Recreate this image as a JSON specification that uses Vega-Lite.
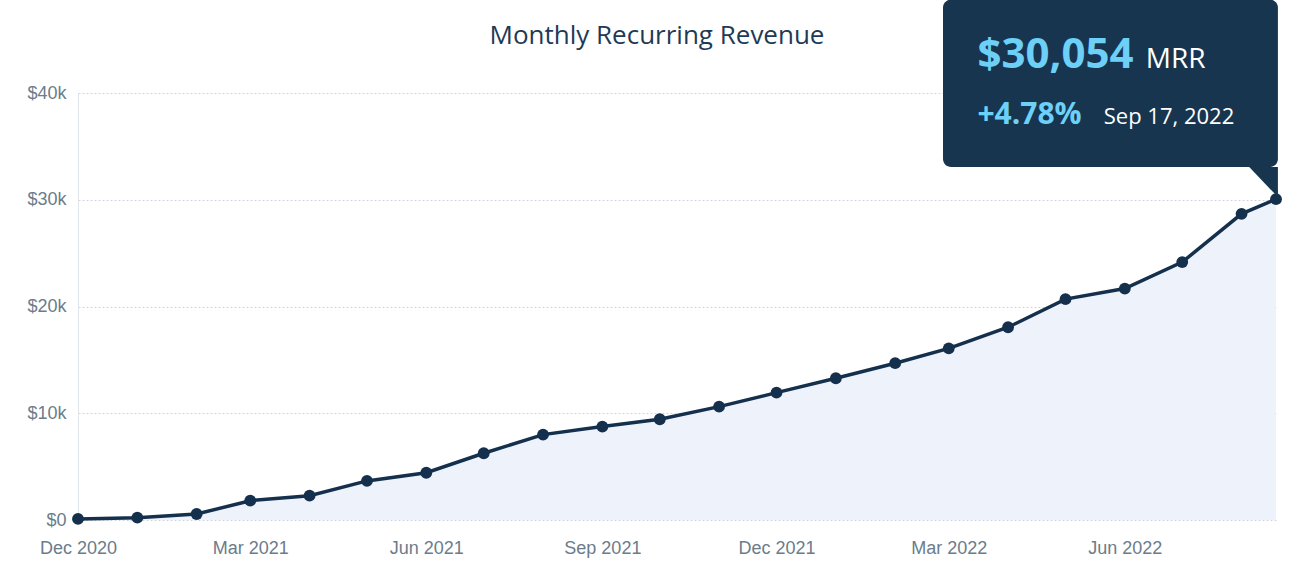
{
  "$schema": "https://vega.github.io/schema/vega-lite/v6.json",
  "width": 1198,
  "height": 427,
  "autosize": {"type": "none"},
  "padding": {"left": 78, "top": 93, "right": 36, "bottom": 52},
  "background": "#ffffff",
  "title": {
    "text": "Monthly Recurring Revenue",
    "font": "Open Sans",
    "fontSize": 26,
    "fontWeight": "normal",
    "color": "#1e3a56",
    "anchor": "middle",
    "dx": -20,
    "baseline": "alphabetic",
    "offset": -70
  },
  "config": {
    "view": {"stroke": null},
    "axis": {
      "labelFont": "Liberation Sans",
      "labelFontSize": 18,
      "labelColor": "#6b7c8b",
      "ticks": false
    }
  },
  "datasets": {
    "mrr": [
      {"date": "2020-12-01", "value": 100},
      {"date": "2021-01-01", "value": 220},
      {"date": "2021-02-01", "value": 560},
      {"date": "2021-03-01", "value": 1810},
      {"date": "2021-04-01", "value": 2280},
      {"date": "2021-05-01", "value": 3660},
      {"date": "2021-06-01", "value": 4430},
      {"date": "2021-07-01", "value": 6250},
      {"date": "2021-08-01", "value": 8000},
      {"date": "2021-09-01", "value": 8750},
      {"date": "2021-10-01", "value": 9440},
      {"date": "2021-11-01", "value": 10620},
      {"date": "2021-12-01", "value": 11930},
      {"date": "2022-01-01", "value": 13280},
      {"date": "2022-02-01", "value": 14690},
      {"date": "2022-03-01", "value": 16080},
      {"date": "2022-04-01", "value": 18060},
      {"date": "2022-05-01", "value": 20690},
      {"date": "2022-06-01", "value": 21680},
      {"date": "2022-07-01", "value": 24160},
      {"date": "2022-08-01", "value": 28683},
      {"date": "2022-08-19", "value": 30054}
    ],
    "box": [
      {"date": "2022-02-26", "date2": "2022-08-20", "value": 48750, "value2": 33070}
    ],
    "pointer": [
      {"date": "2022-08-05", "value": 33070, "value2": 33070},
      {"date": "2022-08-20", "value": 33070, "value2": 30250}
    ],
    "tipValue": [{"date": "2022-03-16", "value": 42340, "text": "$30,054"}],
    "tipUnit": [{"date": "2022-06-12", "value": 42340, "text": "MRR"}],
    "tipChange": [{"date": "2022-03-16", "value": 37100, "text": "+4.78%"}],
    "tipDate": [{"date": "2022-05-21", "value": 37100, "text": "Sep 17, 2022"}]
  },
  "encoding": {
    "x": {
      "field": "date",
      "type": "temporal",
      "title": null,
      "scale": {
        "type": "utc",
        "domain": [
          {"year": 2020, "month": 12, "date": 1, "utc": true},
          {"year": 2022, "month": 8, "date": 19, "utc": true}
        ]
      },
      "axis": {
        "values": [
          {"year": 2020, "month": 12, "date": 1, "utc": true},
          {"year": 2021, "month": 3, "date": 1, "utc": true},
          {"year": 2021, "month": 6, "date": 1, "utc": true},
          {"year": 2021, "month": 9, "date": 1, "utc": true},
          {"year": 2021, "month": 12, "date": 1, "utc": true},
          {"year": 2022, "month": 3, "date": 1, "utc": true},
          {"year": 2022, "month": 6, "date": 1, "utc": true}
        ],
        "labelExpr": "utcFormat(datum.value, '%b %Y')",
        "grid": false,
        "domain": false,
        "labelFlush": false,
        "labelOverlap": false,
        "labelPadding": 19
      }
    },
    "y": {
      "field": "value",
      "type": "quantitative",
      "title": null,
      "scale": {"domain": [0, 40000], "nice": false},
      "axis": {
        "values": [0, 10000, 20000, 30000, 40000],
        "labelExpr": "datum.value == 0 ? '$0' : '$' + (datum.value / 1000) + 'k'",
        "grid": true,
        "gridColor": "#cfd6df",
        "gridDash": [2, 2],
        "gridWidth": 1,
        "domain": true,
        "domainColor": "#e0e5ec",
        "domainWidth": 1,
        "labelPadding": 12
      }
    }
  },
  "layer": [
    {"data": {"name": "mrr"}, "mark": {"type": "area", "color": "#eef2fb"}},
    {"data": {"name": "mrr"}, "mark": {"type": "line", "color": "#15304d", "strokeWidth": 3.5}},
    {"data": {"name": "mrr"}, "mark": {"type": "point", "filled": true, "opacity": 1, "size": 140, "color": "#15304d"}},
    {
      "data": {"name": "box"},
      "mark": {"type": "rect", "color": "#183550", "cornerRadius": 8},
      "encoding": {"x2": {"field": "date2"}, "y2": {"field": "value2"}}
    },
    {
      "data": {"name": "pointer"},
      "mark": {"type": "area", "color": "#183550"},
      "encoding": {"y2": {"field": "value2"}}
    },
    {
      "data": {"name": "tipValue"},
      "mark": {"type": "text", "align": "left", "baseline": "alphabetic", "font": "Open Sans", "fontWeight": "bold", "fontSize": 42, "color": "#6dd0f7"},
      "encoding": {"text": {"field": "text"}}
    },
    {
      "data": {"name": "tipUnit"},
      "mark": {"type": "text", "align": "left", "baseline": "alphabetic", "font": "Open Sans", "fontWeight": "normal", "fontSize": 28, "color": "#ffffff"},
      "encoding": {"text": {"field": "text"}}
    },
    {
      "data": {"name": "tipChange"},
      "mark": {"type": "text", "align": "left", "baseline": "alphabetic", "font": "Open Sans", "fontWeight": "bold", "fontSize": 30, "color": "#6dd0f7"},
      "encoding": {"text": {"field": "text"}}
    },
    {
      "data": {"name": "tipDate"},
      "mark": {"type": "text", "align": "left", "baseline": "alphabetic", "font": "Open Sans", "fontWeight": "normal", "fontSize": 22, "color": "#ffffff"},
      "encoding": {"text": {"field": "text"}}
    }
  ]
}
